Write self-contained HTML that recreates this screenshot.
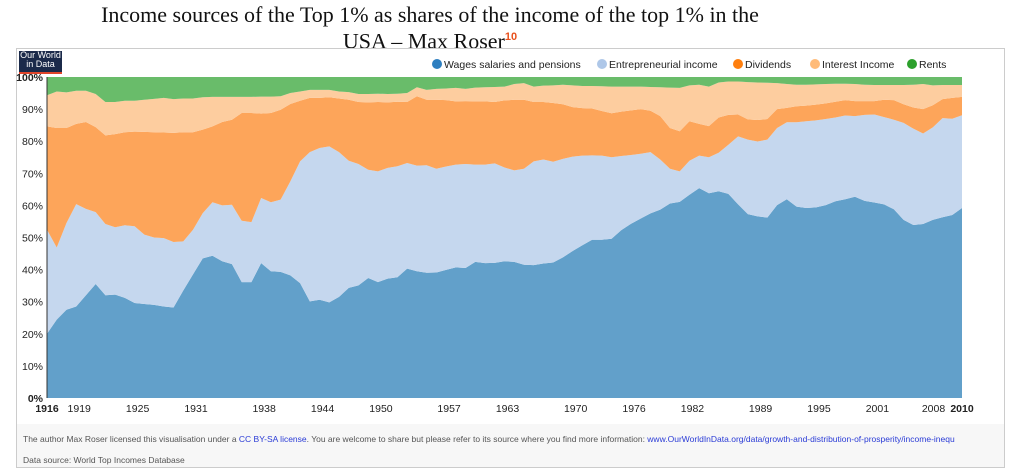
<!DOCTYPE html>
<html><head><meta charset="utf-8"><style>
body{margin:0;width:1022px;height:474px;background:#fff;overflow:hidden;font-family:"Liberation Sans",sans-serif;position:relative}
#title{position:absolute;left:0;width:860px;top:3px;text-align:center;font-family:"Liberation Serif",serif;font-size:22px;line-height:23px;color:#111}
#title sup{color:#e8501c;font-size:11px;font-family:"Liberation Sans",sans-serif;font-weight:bold}
#frame{position:absolute;left:16px;top:48px;width:989px;height:420px;border:1px solid #ccc;box-sizing:border-box}
#footer{position:absolute;left:17px;top:424px;width:987px;height:43px;background:#f7f7f7}
.ft{position:absolute;left:6px;font-size:8.5px;color:#555;white-space:nowrap}
.ft a{color:#2a3bd6;text-decoration:none}
#logo{position:absolute;left:19px;top:51px;width:43px;height:21px;background:#1b2a4a;color:#fff;font-size:9px;line-height:9px;text-align:center;border-bottom:2px solid #e0452b}
svg{position:absolute;left:0;top:0}
</style></head><body>
<div id="title">Income sources of the Top 1% as shares of the income of the top 1% in the<br>USA – Max Roser<sup>10</sup></div>
<div id="frame"></div>
<div id="footer">
<div class="ft" style="top:10px">The author Max Roser licensed this visualisation under a <a>CC BY-SA license</a>. You are welcome to share but please refer to its source where you find more information: <a>www.OurWorldInData.org/data/growth-and-distribution-of-prosperity/income-inequ</a></div>
<div class="ft" style="top:31px">Data source: World Top Incomes Database</div>
</div>
<div id="logo">Our World<br>in Data</div>
<svg id="chart" width="1022" height="474"></svg>
<script>
const years=[];for(let y=1916;y<=2010;y++)years.push(y);
const cumWages=[20,24.4,27.5,28.5,32,35.5,32,32.2,31.2,29.6,
29.3,29,28.5,28.2,33.5,38.5,43.5,44.3,42.6,41.7,
36.1,36.1,42,39.5,39.3,38.2,35.8,30.1,30.6,29.8,
31.5,34.3,35.1,37.4,36.1,37.2,37.6,40.3,39.5,39,
39.1,39.9,40.7,40.5,42.4,42,42.1,
42.6,42.4,41.5,41.4,41.9,42.2,43.8,45.8,47.6,49.3,
49.3,49.6,52.3,54.3,55.9,57.5,58.7,60.6,61.1,63.3,
65.4,63.8,64.4,63.6,60.3,57.3,56.6,56.2,60.1,61.9,
59.6,59.2,59.4,60.1,61.3,61.9,62.7,61.4,60.9,60.3,
58.8,55.5,53.9,54.2,55.5,56.3,57.0,59.2];
const cumEntrepreneurial=[52.4,46.9,54.5,60.4,58.9,57.9,54.2,53.2,53.8,53.5,
50.9,50,49.8,48.6,48.8,52.4,57.6,61,60,60.2,
55.2,54.8,62.3,61,61.8,67.5,73.7,76.6,77.9,78.4,
76.6,73.9,72.9,71.1,70.6,71.7,72.2,73.2,72.4,72.5,
71.4,72.1,72.7,72.9,72.7,72.7,73.1,
71.8,70.9,71.4,73.7,74.3,73.6,74.5,75.2,75.5,75.6,
75.5,75.0,75.4,75.7,76.1,76.6,74.3,71.4,70.6,73.9,
75.5,75.0,76.4,78.9,81.5,80.5,79.9,80.5,84.1,85.9,
85.9,86.2,86.5,86.9,87.4,88.0,87.8,88.2,88.3,87.5,
86.7,85.7,83.9,82.4,84.3,87.2,87.0,88.1];
const cumDividends=[84.6,84.1,84.1,85.4,86,84.4,81.8,82.2,82.8,83,
82.9,82.8,82.7,82.6,82.8,82.8,83.6,84.6,86,86.7,
88.8,88.8,88.6,88.8,89.8,91.6,92.6,93.5,93.5,93.7,
93.3,92.9,92.2,92.1,92.2,92.1,92.3,92.2,94.0,92.9,
92.9,92.8,92.4,92.5,92.4,92.4,92.2,
92.7,92.9,92.9,92.2,92.2,91.9,91.5,90.6,90.3,90.2,
89.4,88.7,89.2,89.6,90.0,89.5,87.8,84.1,83.1,86.2,
85.4,84.7,87.4,88.2,88.3,86.8,86.6,86.9,90.0,90.4,
90.9,91.1,91.4,91.8,92.3,92.8,92.5,92.5,92.5,92.9,
92.8,91.5,90.5,90.0,91.2,93.1,93.5,93.8];
const cumInterest=[94.3,95.5,95.2,95.7,95.7,94.7,92.2,92.2,92.6,92.6,
92.9,93.2,93.5,93.1,93.3,93.3,93.7,93.8,93.8,93.8,
93.8,93.8,93.9,93.9,94.0,95,95.5,96,96,96,
95.5,95.3,94.7,94.7,94.8,94.7,94.8,95,96.8,96,
96.3,96.4,96.6,96.3,96.7,96.8,96.9,
97.0,97.8,98.1,97.0,97.3,97.4,97.6,97.4,97.2,97.2,
97.1,97.0,97.0,97.0,97.0,96.9,96.8,96.7,96.6,97.4,
97.6,97.0,98.3,98.6,98.6,98.4,98.3,98.2,98.1,97.8,
97.6,97.6,97.7,97.8,97.9,97.9,97.8,97.6,97.5,97.5,
97.5,97.5,97.6,97.8,97.4,97.5,97.5,97.5];
const cumRents=years.map(()=>100);
const seriesNames=["Wages salaries and pensions","Entrepreneurial income","Dividends","Interest Income","Rents"];
const xTickLabels=[1916,1919,1925,1931,1938,1944,1950,1957,1963,1970,1976,1982,1989,1995,2001,2008,2010];
const yTickLabels=[0,10,20,30,40,50,60,70,80,90,100];

const NS="http://www.w3.org/2000/svg";
const svg=document.getElementById('chart');
const L=47,R=962,T=77,B=398;
const x=y=>L+(y-years[0])/(years[years.length-1]-years[0])*(R-L);
const yS=v=>B-v/100*(B-T);
function mk(t,a){const e=document.createElementNS(NS,t);for(const k in a)e.setAttribute(k,a[k]);svg.appendChild(e);return e;}
const layers=[cumWages,cumEntrepreneurial,cumDividends,cumInterest,cumRents];
const fills=["#62a0ca","#c5d7ee","#fda55a","#fdcd9f","#69bc6a"];
const lcol=["#2e7fc0","#aec7e8","#ff7f0e","#ffbb78","#2ca02c"];
const names=['area-wages','area-entrepreneurial','area-dividends','area-interest','area-rents'];
layers.forEach((top,i)=>{
  const bot=i?layers[i-1]:years.map(()=>0);
  let d='M'+years.map((y,j)=>x(y)+','+yS(top[j])).join('L');
  for(let j=years.length-1;j>=0;j--)d+='L'+x(years[j])+','+yS(bot[j]);
  const p=mk('path',{d:d+'Z',fill:fills[i]});
  
  
});
mk('line',{x1:L,y1:T,x2:L,y2:B,stroke:'#333','stroke-width':1});
yTickLabels.forEach(v=>{
  const t=mk('text',{x:43,y:yS(v)+4,'text-anchor':'end','font-size':10.5,fill:'#222','font-weight':v===100||v===0?'bold':'normal'});
  t.textContent=v+'%';
  
  
});
xTickLabels.forEach((v,i)=>{
  const last=i===xTickLabels.length-1;
  let off=(i===0||last)?0:3;
  if(v===2008)off=-9;
  const t=mk('text',{x:x(v)+off,y:412,'text-anchor':'middle','font-size':10.5,fill:'#222','font-weight':(i===0||last)?'bold':'normal'});
  t.textContent=v;
  
  
});
const legX=[432,597,733,810,907];
seriesNames.forEach((n,i)=>{
  const c=mk('circle',{cx:legX[i]+5,cy:64,r:5,fill:lcol[i]});
  
  
  const t=mk('text',{x:legX[i]+12,y:68,'font-size':10.5,fill:'#222'});
  t.textContent=n;
  
  
});
</script>
</body></html>
